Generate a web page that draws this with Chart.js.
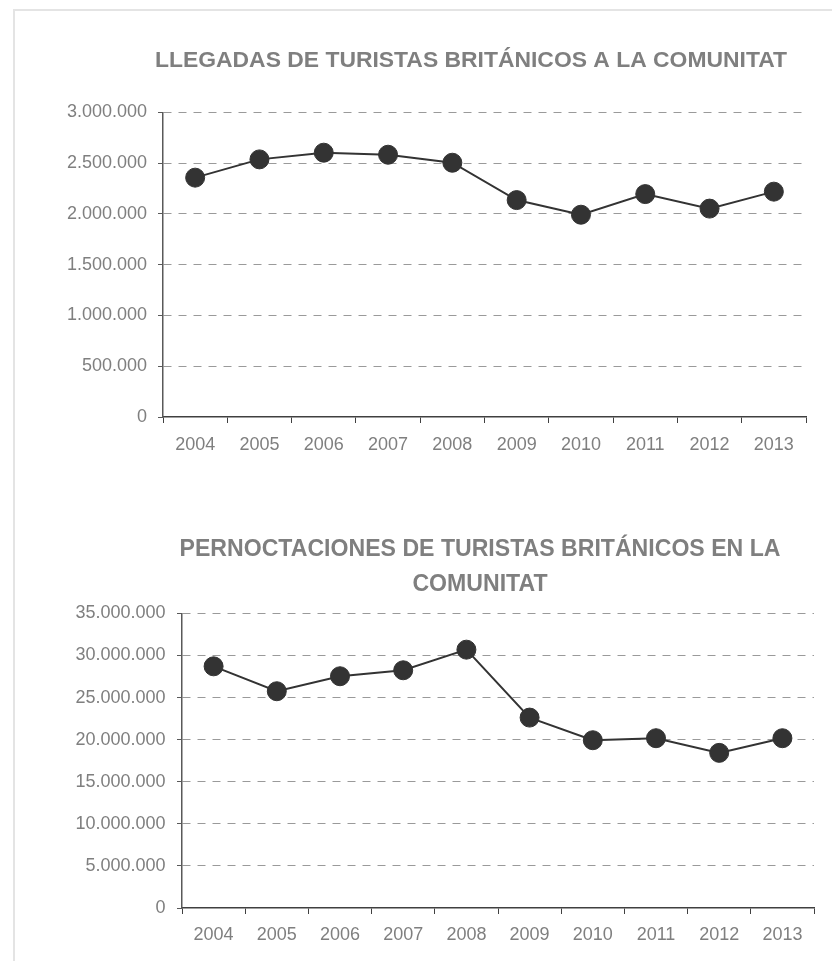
<!DOCTYPE html>
<html>
<head>
<meta charset="utf-8">
<script src="https://cdn.jsdelivr.net/npm/chart.js@4/dist/chart.umd.min.js"></script>
<style>
  html, body { margin: 0; padding: 0; background: #ffffff; }
  body { width: 832px; height: 961px; position: relative; overflow: hidden; }
  #frame { position: absolute; left: 13px; top: 9px; width: 900px; height: 1000px;
           border-left: 2px solid #e4e4e4; border-top: 2px solid #e4e4e4; }
  canvas { position: absolute; left: 0; }
  #c1 { top: 0; }
  #c2 { top: 480px; }
</style>
</head>
<body>
<div id="frame"></div>
<canvas id="c1" width="942" height="480"></canvas>
<canvas id="c2" width="960" height="481"></canvas>
<script>
const years = ['2004','2005','2006','2007','2008','2009','2010','2011','2012','2013'];
const llegadas = [2358000, 2538000, 2604000, 2584000, 2505000, 2137000, 1993000, 2196000, 2053000, 2220000];
const pernoctaciones = [28710000, 25750000, 27530000, 28240000, 30690000, 22620000, 19930000, 20170000, 18430000, 20170000];
const title1 = 'LLEGADAS DE TURISTAS BRITÁNICOS A LA COMUNITAT';
const title2 = ['PERNOCTACIONES DE TURISTAS BRITÁNICOS EN LA', 'COMUNITAT'];

const FONT = '"Liberation Sans", Arial, sans-serif';
const GREY = '#7f7f7f';
const DARK = '#333333';

function fmt(v) {
  return String(v).replace(/\B(?=(\d{3})+(?!\d))/g, '.');
}

function makeChart(id, data, title, cfg) {
  return new Chart(document.getElementById(id), {
    type: 'line',
    data: {
      labels: years,
      datasets: [{
        data: data,
        borderColor: DARK,
        backgroundColor: DARK,
        borderWidth: 2,
        pointRadius: 9.5,
        pointBorderWidth: 1,
        pointBackgroundColor: DARK,
        pointBorderColor: DARK,
        tension: 0,
        fill: false
      }]
    },
    options: {
      responsive: false,
      animation: false,
      devicePixelRatio: 1,
      layout: { padding: cfg.padding },
      plugins: {
        legend: { display: false },
        tooltip: { enabled: false },
        title: {
          display: true,
          text: title,
          color: GREY,
          font: { family: FONT, size: cfg.titleSize, weight: 'bold', lineHeight: cfg.titleLH },
          padding: cfg.titlePad
        }
      },
      scales: {
        x: {
          type: 'category',
          offset: true,
          afterFit: (s) => { s.height = 40; },
          grid: {
            offset: true,
            drawOnChartArea: false,
            drawTicks: true,
            tickLength: 6,
            tickColor: '#404040',
            tickWidth: 1
          },
          border: { display: true, color: '#404040', width: 1.5 },
          ticks: {
            color: GREY,
            font: { family: FONT, size: 18 },
            padding: cfg.xPad,
            maxRotation: 0,
            autoSkip: false
          }
        },
        y: {
          min: 0,
          max: cfg.max,
          afterFit: (s) => { s.width = cfg.yWidth; },
          grid: {
            color: (c) => (c.tick && c.tick.value === 0) ? 'rgba(0,0,0,0)' : '#9a9a9a',
            lineWidth: 1,
            drawTicks: true,
            tickLength: 5,
            tickColor: '#595959',
            tickWidth: 1
          },
          border: { display: true, color: '#595959', width: 1.5, dash: [8, 7] },
          ticks: {
            stepSize: cfg.step,
            color: GREY,
            font: { family: FONT, size: 18 },
            padding: cfg.yPad,
            callback: (v) => fmt(v)
          }
        },
        spacer: {
          type: 'linear',
          position: 'right',
          display: true,
          afterFit: (s) => { s.width = cfg.rightSpace; },
          grid: { display: false, drawTicks: false },
          border: { display: false },
          ticks: { display: false }
        }
      }
    }
  });
}

makeChart('c1', llegadas, title1, {
  padding: { left: 0, right: 0, top: 0, bottom: 23 },
  rightSpace: 136,
  titleSize: 22.9,
  titleLH: 1.2,
  titlePad: { top: 47, bottom: 38 },
  yWidth: 163,
  max: 3000000,
  step: 500000,
  xPad: 11,
  yPad: 11
});

makeChart('c2', pernoctaciones, title2, {
  padding: { left: 0, right: 0, top: 0, bottom: 13 },
  rightSpace: 146,
  titleSize: 23.1,
  titleLH: 1.48,
  titlePad: { top: 53, bottom: 12 },
  yWidth: 182,
  max: 35000000,
  step: 5000000,
  xPad: 10.5,
  yPad: 11.5
});
</script>
</body>
</html>
